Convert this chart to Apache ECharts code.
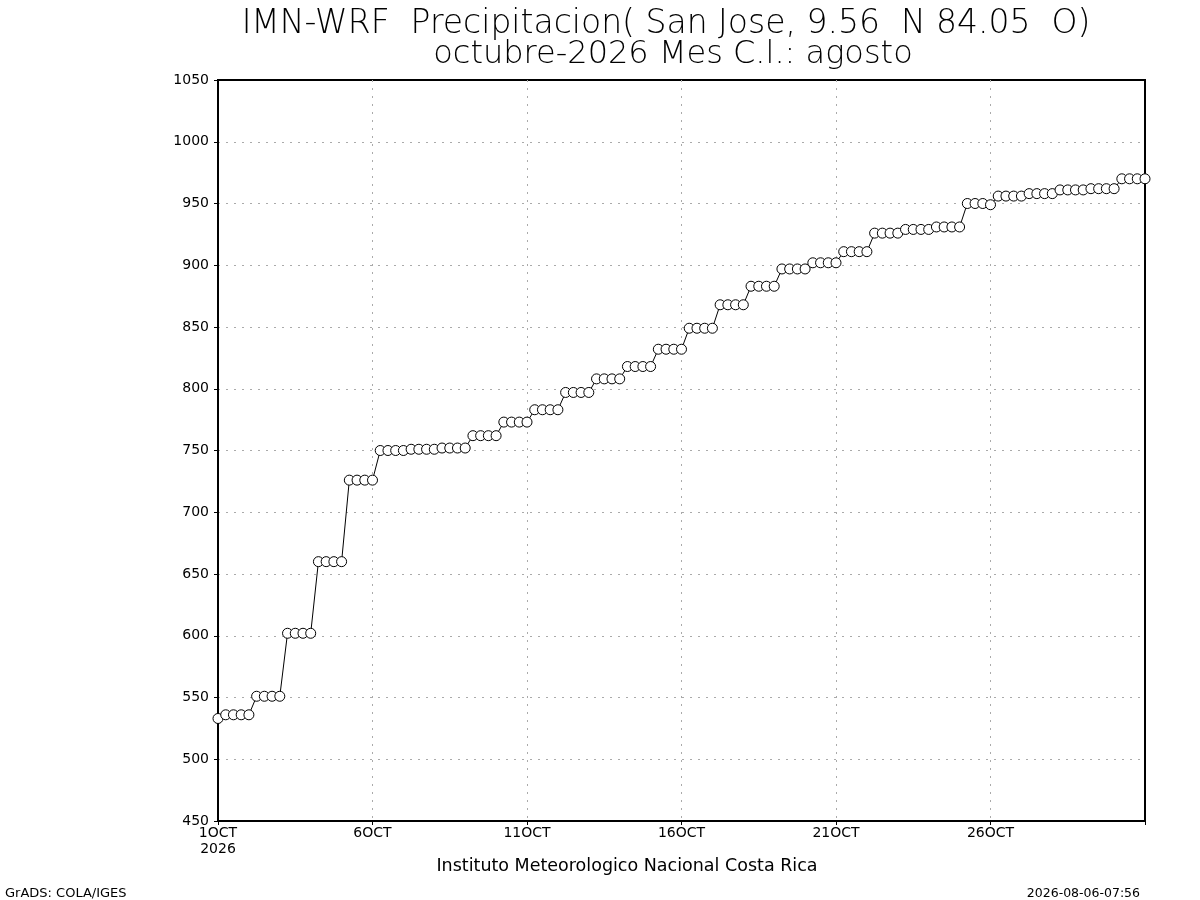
<!DOCTYPE html>
<html>
<head>
<meta charset="utf-8">
<script src="https://cdn.jsdelivr.net/npm/echarts@6/dist/echarts.min.js"></script>
<style>html,body{margin:0;padding:0;background:#fff;}#c{width:1200px;height:900px;}</style>
</head>
<body>
<div id="c"></div>
<script>
// accumulated precipitation (mm), one value every 6 h from 1 Oct 00Z
var precipValues = [
  533,
  536,536,536,536,
  551,551,551,551,
  602,602,602,602,
  660,660,660,660,
  726,726,726,726,
  750,750,750,750,751,751,751,751,752,752,752,752,
  762,762,762,762,
  773,773,773,773,
  783,783,783,783,
  797,797,797,797,
  808,808,808,808,
  818,818,818,818,
  832,832,832,832,
  849,849,849,849,
  868,868,868,868,
  883,883,883,883,
  897,897,897,897,
  902,902,902,902,
  911,911,911,911,
  926,926,926,926,
  929,929,929,929,
  931,931,931,931,
  950,950,950,949,
  956,956,956,956,
  958,958,958,958,
  961,961,961,961,
  962,962,962,962,
  970,970,970,970
];
var xTickLabels = ['1OCT\n2026','6OCT','11OCT','16OCT','21OCT','26OCT'];
var yTicks = [450,500,550,600,650,700,750,800,850,900,950,1000,1050];

var chart = echarts.init(document.getElementById('c'));
var pts = precipValues.map(function(v,i){return [i,v];});
var font = 'DejaVu Sans';
chart.setOption({
  animation:false,
  backgroundColor:'#fff',
  title:[
    {text:'IMN-WRF  Precipitacion( San Jose, 9.56  N 84.05  O)', left:661, top:3, textAlign:'center',
     textStyle:{fontFamily:font,fontWeight:200,fontSize:33,color:'#000'}},
    {text:'octubre-2026 Mes C.l.: agosto', left:668, top:34, textAlign:'center',
     textStyle:{fontFamily:font,fontWeight:200,fontSize:32,color:'#000'}},
    {text:'Instituto Meteorologico Nacional Costa Rica', left:622, top:852, textAlign:'center',
     textStyle:{fontFamily:font,fontWeight:'normal',fontSize:17.5,color:'#000'}},
    {text:'GrADS: COLA/IGES', left:0, top:882,
     textStyle:{fontFamily:font,fontWeight:'normal',fontSize:13,color:'#000'}},
    {text:'2026-08-06-07:56', right:55, top:882,
     textStyle:{fontFamily:font,fontWeight:'normal',fontSize:12.5,color:'#000'}}
  ],
  grid:{left:218,right:55,top:80,bottom:79,show:true,borderColor:'#000',borderWidth:2,backgroundColor:'transparent'},
  xAxis:{
    type:'value',min:0,max:120,interval:20,
    axisLine:{show:true,lineStyle:{color:'#000',width:2}},
    axisTick:{show:true,length:4,lineStyle:{color:'#000'}},
    axisLabel:{fontFamily:font,fontSize:14,color:'#000',margin:4,lineHeight:16,
      formatter:function(v){var k=Math.round(v/20);return k<xTickLabels.length?xTickLabels[k]:'';}},
    splitLine:{show:true,showMinLine:false,showMaxLine:false,lineStyle:{color:'#aaa',type:[2,6],width:1}}
  },
  yAxis:{
    type:'value',min:450,max:1050,interval:50,
    axisLine:{show:true,lineStyle:{color:'#000',width:2}},
    axisTick:{show:true,length:4,lineStyle:{color:'#000'}},
    axisLabel:{fontFamily:font,fontSize:14,color:'#000',margin:9,
      formatter:function(v){return yTicks.indexOf(v)>=0?String(v):'';}},
    splitLine:{show:true,showMinLine:false,showMaxLine:false,lineStyle:{color:'#aaa',type:[2,6],width:1}}
  },
  series:[{
    type:'line',data:pts,symbol:'circle',symbolSize:10,
    lineStyle:{color:'#000',width:1},
    itemStyle:{color:'#fff',borderColor:'#000',borderWidth:1},
    clip:false
  }]
});
</script>
</body>
</html>
